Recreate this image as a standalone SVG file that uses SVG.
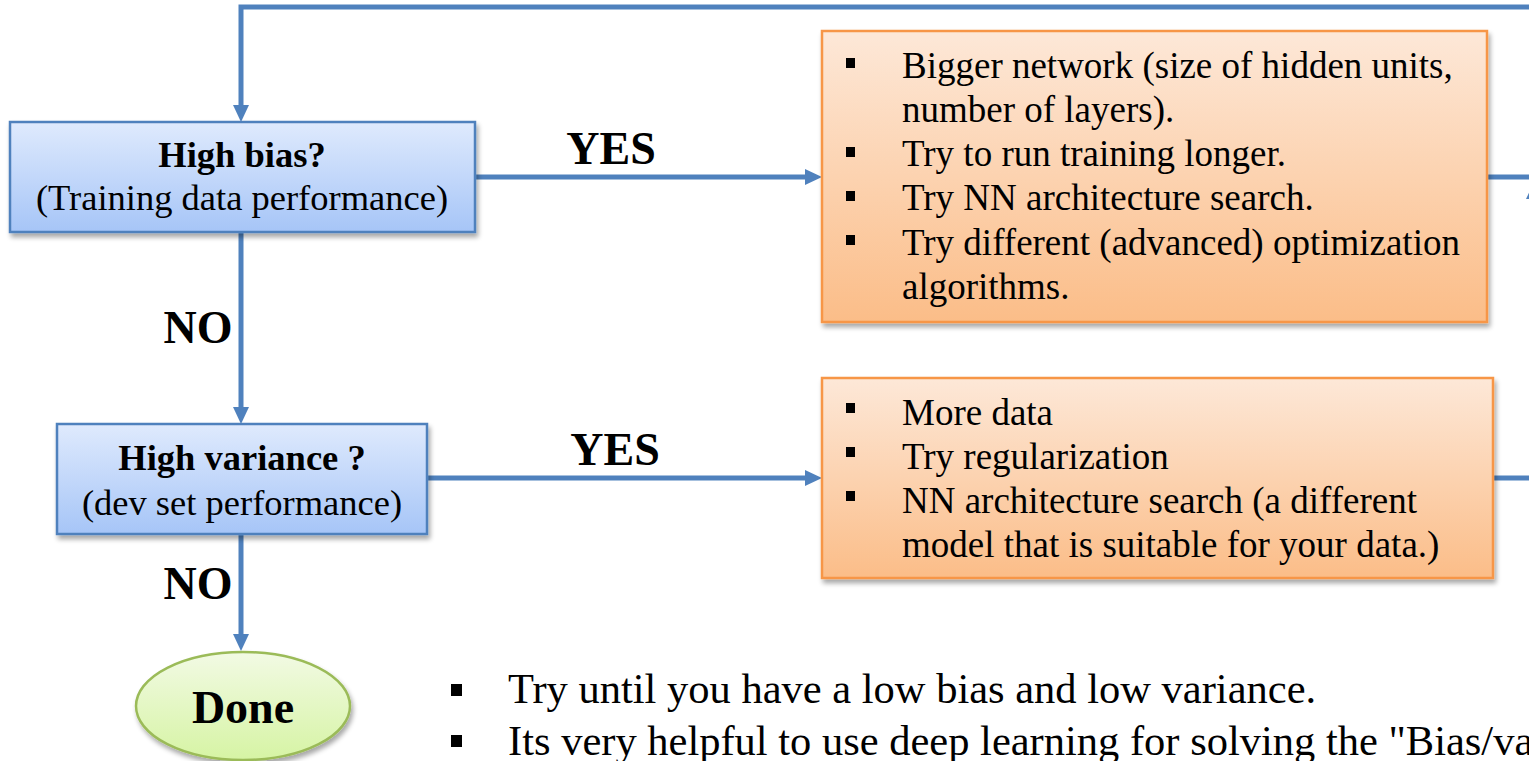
<svg xmlns="http://www.w3.org/2000/svg" width="1529" height="761" viewBox="0 0 1529 761">
  <defs>
    <linearGradient id="gBlue" x1="0" y1="0" x2="0" y2="1">
      <stop offset="0" stop-color="#dfeafd"/>
      <stop offset="1" stop-color="#a6c5f7"/>
    </linearGradient>
    <linearGradient id="gOrange" x1="0" y1="0" x2="0" y2="1">
      <stop offset="0" stop-color="#fde8d8"/>
      <stop offset="1" stop-color="#fbbd88"/>
    </linearGradient>
    <linearGradient id="gGreen" x1="0" y1="0" x2="0" y2="1">
      <stop offset="0" stop-color="#f2fae4"/>
      <stop offset="1" stop-color="#d6f4a4"/>
    </linearGradient>
    <filter id="shadow" x="-10%" y="-10%" width="125%" height="130%">
      <feGaussianBlur in="SourceAlpha" stdDeviation="2.5"/>
      <feOffset dx="2" dy="4" result="o"/>
      <feComponentTransfer><feFuncA type="linear" slope="0.35"/></feComponentTransfer>
      <feMerge><feMergeNode/><feMergeNode in="SourceGraphic"/></feMerge>
    </filter>
    <marker id="arrow" viewBox="0 0 17 16" markerWidth="17" markerHeight="16" refX="5" refY="8" orient="auto" markerUnits="userSpaceOnUse">
      <path d="M0,0 L17,8 L0,16 z" fill="#4f81bd"/>
    </marker>
  </defs>
  <style>
    .blue { fill: url(#gBlue); stroke: #4f81bd; stroke-width: 2.5; }
    .orange { fill: url(#gOrange); stroke: #f79646; stroke-width: 2.5; }
    .green { fill: url(#gGreen); stroke: #9bbb59; stroke-width: 2.5; }
    .conn { fill: none; stroke: #4f81bd; stroke-width: 5; }
    text { font-family: "Liberation Serif", "Times New Roman", serif; fill: #000; }
    .q { font-size: 36.5px; font-weight: bold; text-anchor: middle; }
    .sub { font-size: 36.5px; text-anchor: middle; }
    .lbl { font-size: 46px; font-weight: bold; text-anchor: middle; }
    .item { font-size: 37px; }
    .note { font-size: 42.5px; }
    .bullet { fill: #000; }
  </style>

  <!-- connectors -->
  <g id="connectors">
    <path class="conn" d="M1487,177 H1560"/>
    <path class="conn" d="M1560,7 H241 V110" marker-end="url(#arrow)"/>
    <path class="conn" d="M1493,478 H1534 V194" marker-end="url(#arrow)"/>
    <path class="conn" d="M474,177 H810" marker-end="url(#arrow)"/>
    <path class="conn" d="M241,232 V412" marker-end="url(#arrow)"/>
    <path class="conn" d="M427,478 H810" marker-end="url(#arrow)"/>
    <path class="conn" d="M241,534 V639" marker-end="url(#arrow)"/>
    <text class="lbl" x="611" y="164">YES</text>
    <text class="lbl" x="615" y="465">YES</text>
    <text class="lbl" x="198" y="343">NO</text>
    <text class="lbl" x="198" y="599">NO</text>
  </g>

  <!-- decision: high bias -->
  <g id="high-bias">
    <rect class="blue" x="10" y="122" width="465" height="110" filter="url(#shadow)"/>
    <text class="q" x="242" y="167">High bias?</text>
    <text class="sub" x="242" y="210">(Training data performance)</text>
  </g>

  <!-- decision: high variance -->
  <g id="high-variance">
    <rect class="blue" x="57" y="424" width="370" height="110" filter="url(#shadow)"/>
    <text class="q" x="242" y="470">High variance ?</text>
    <text class="sub" x="242" y="515">(dev set performance)</text>
  </g>

  <!-- remedies for high bias -->
  <g id="bias-remedies">
    <rect class="orange" x="822" y="31" width="665" height="291" filter="url(#shadow)"/>
    <rect class="bullet" x="846" y="58" width="9" height="10"/>
    <rect class="bullet" x="846" y="147" width="9" height="10"/>
    <rect class="bullet" x="846" y="191" width="9" height="10"/>
    <rect class="bullet" x="846" y="235" width="9" height="10"/>
    <text class="item" x="902" y="77.5">Bigger network (size of hidden units,</text>
    <text class="item" x="902" y="121.5">number of layers).</text>
    <text class="item" x="902" y="166">Try to run training longer.</text>
    <text class="item" x="902" y="210">Try NN architecture search.</text>
    <text class="item" x="902" y="254.5">Try different (advanced) optimization</text>
    <text class="item" x="902" y="298.5">algorithms.</text>
  </g>

  <!-- remedies for high variance -->
  <g id="variance-remedies">
    <rect class="orange" x="822" y="378" width="671" height="200" filter="url(#shadow)"/>
    <rect class="bullet" x="846" y="403" width="9" height="10"/>
    <rect class="bullet" x="846" y="447" width="9" height="10"/>
    <rect class="bullet" x="846" y="491" width="9" height="10"/>
    <text class="item" x="902" y="425">More data</text>
    <text class="item" x="902" y="469">Try regularization</text>
    <text class="item" x="902" y="513">NN architecture search (a different</text>
    <text class="item" x="902" y="557">model that is suitable for your data.)</text>
  </g>

  <!-- terminal -->
  <g id="done">
    <ellipse class="green" cx="243" cy="706" rx="107" ry="54" filter="url(#shadow)"/>
    <text class="lbl" x="243" y="723">Done</text>
  </g>

  <!-- closing notes -->
  <g id="notes">
    <rect class="bullet" x="451" y="684" width="11" height="12"/>
    <rect class="bullet" x="451" y="735" width="11" height="12"/>
    <text class="note" x="508" y="703">Try until you have a low bias and low variance.</text>
    <text class="note" x="508" y="755">Its very helpful to use deep learning for solving the "Bias/va</text>
  </g>
</svg>
